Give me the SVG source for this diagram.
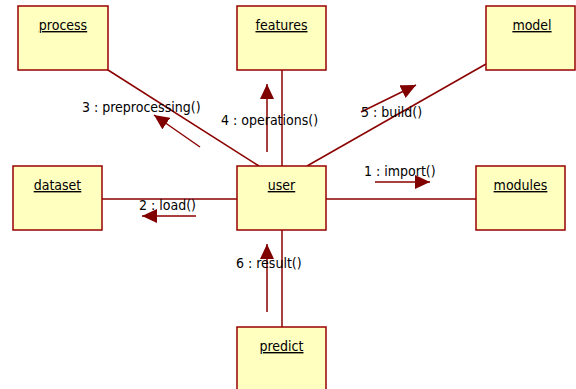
<svg xmlns="http://www.w3.org/2000/svg" width="576" height="389" viewBox="0 0 576 389">
<style>
.box{fill:#ffffc0;stroke:#990000;stroke-width:1.5}
.lbl{font-family:"DejaVu Sans Condensed","DejaVu Sans",sans-serif;font-size:14px;fill:#000;text-anchor:middle;text-decoration:underline}
.msg{font-family:"DejaVu Sans Condensed","DejaVu Sans",sans-serif;font-size:14px;fill:#000}
.link{stroke:#8b0000;stroke-width:1.5;fill:none}
.arr{stroke:#8b0000;stroke-width:1.5;fill:none;marker-end:url(#ah)}
</style>
<defs>
<marker id="ah" markerUnits="userSpaceOnUse" markerWidth="16" markerHeight="14" refX="15" refY="7" orient="auto">
<path d="M0,0 L15,7 L0,14 Z" fill="#800000"/>
</marker>
</defs>
<rect width="576" height="389" fill="#fff"/>
<g id="connectors">
<line class="link" x1="108" y1="70" x2="259" y2="166"/>
<line class="link" x1="282" y1="70" x2="282" y2="166"/>
<line class="link" x1="486" y1="64" x2="307" y2="166"/>
<line class="link" x1="102" y1="199" x2="237" y2="199"/>
<line class="link" x1="326" y1="199" x2="476" y2="199"/>
<line class="link" x1="282" y1="230" x2="282" y2="327"/>
<line class="arr" x1="200" y1="147" x2="154" y2="115"/>
<line class="arr" x1="267" y1="152" x2="267" y2="84"/>
<line class="arr" x1="361" y1="112" x2="416" y2="85"/>
<line class="arr" x1="375" y1="182" x2="430" y2="182"/>
<line class="arr" x1="196" y1="216" x2="142" y2="216"/>
<line class="arr" x1="267" y1="312" x2="267" y2="244"/>
<text class="msg" x="82" y="112">3 : preprocessing()</text>
<text class="msg" x="221" y="125">4 : operations()</text>
<text class="msg" x="361" y="117">5 : build()</text>
<text class="msg" x="364" y="176">1 : import()</text>
<text class="msg" x="139" y="210">2 : load()</text>
<text class="msg" x="236" y="268">6 : result()</text>
</g>
<g id="process"><rect class="box" x="18" y="6" width="90" height="64"/><text class="lbl" x="63" y="30">process</text></g>
<g id="features"><rect class="box" x="237" y="6" width="89" height="64"/><text class="lbl" x="281.5" y="30">features</text></g>
<g id="model"><rect class="box" x="486" y="6" width="89" height="64"/><text class="lbl" x="532" y="30">model</text></g>
<g id="dataset"><rect class="box" x="13" y="166" width="89" height="64"/><text class="lbl" x="57.5" y="190">dataset</text></g>
<g id="user"><rect class="box" x="237" y="166" width="89" height="64"/><text class="lbl" x="281.5" y="190">user</text></g>
<g id="modules"><rect class="box" x="476" y="166" width="89" height="64"/><text class="lbl" x="520.5" y="190">modules</text></g>
<g id="predict"><rect class="box" x="237" y="327" width="89" height="64"/><text class="lbl" x="281.5" y="351">predict</text></g>
</svg>
